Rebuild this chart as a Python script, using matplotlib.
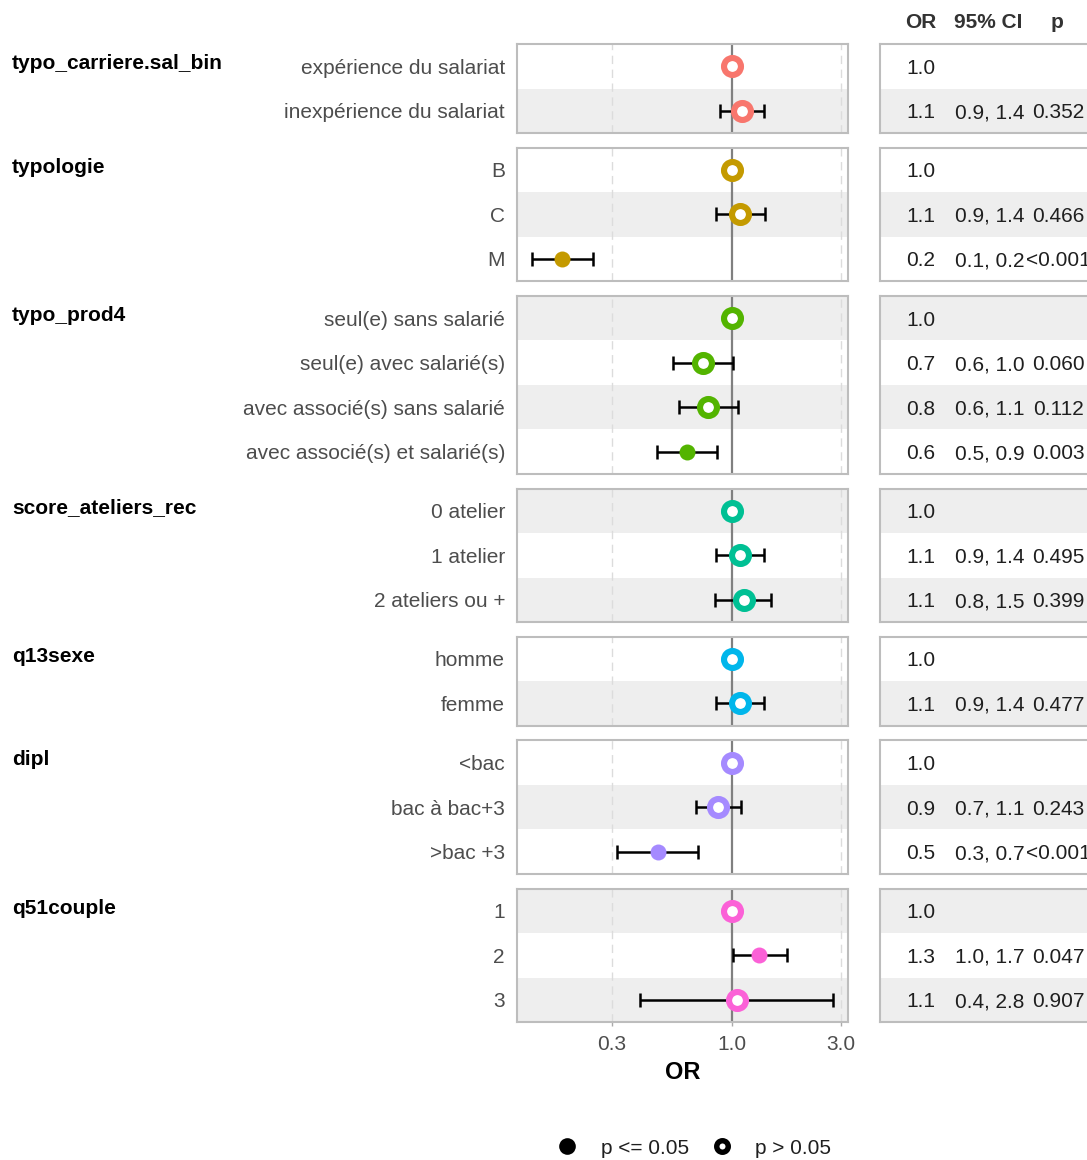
import numpy as np
import matplotlib
matplotlib.use("Agg")
import matplotlib.pyplot as plt
from matplotlib.lines import Line2D

plt.rcParams['font.family'] = ['Liberation Sans', 'DejaVu Sans']

# ---- data -------------------------------------------------------------
groups = ["typo_carriere.sal_bin", "typologie", "typo_prod4",
          "score_ateliers_rec", "q13sexe", "dipl", "q51couple"]
levels = [
    ["expérience du salariat", "inexpérience du salariat"],
    ["B", "C", "M"],
    ["seul(e) sans salarié", "seul(e) avec salarié(s)",
     "avec associé(s) sans salarié", "avec associé(s) et salarié(s)"],
    ["0 atelier", "1 atelier", "2 ateliers ou +"],
    ["homme", "femme"],
    ["<bac", "bac à bac+3", ">bac +3"],
    ["1", "2", "3"],
]
# odds ratios, confidence bounds and p-values (None = reference level)
estimates = [
    [1.0, 1.105],
    [1.0, 1.083, 0.182],
    [1.0, 0.748, 0.787, 0.637],
    [1.0, 1.083, 1.127],
    [1.0, 1.083],
    [1.0, 0.869, 0.477],
    [1.0, 1.32, 1.05],
]
ci_low = [
    [None, 0.887],
    [None, 0.852, 0.135],
    [None, 0.555, 0.588, 0.472],
    [None, 0.852, 0.843],
    [None, 0.852],
    [None, 0.697, 0.316],
    [None, 1.01, 0.40],
]
ci_high = [
    [None, 1.377],
    [None, 1.39, 0.249],
    [None, 1.01, 1.06, 0.861],
    [None, 1.377, 1.49],
    [None, 1.377],
    [None, 1.094, 0.711],
    [None, 1.74, 2.76],
]
p_values = [
    [None, 0.352],
    [None, 0.466, 0.0003],
    [None, 0.060, 0.112, 0.003],
    [None, 0.495, 0.399],
    [None, 0.477],
    [None, 0.243, 0.0002],
    [None, 0.047, 0.907],
]
colors = ["#F8766D", "#C49A00", "#53B400", "#00C094",
          "#00B6EB", "#A58AFF", "#FB61D7"]
x_ticks = [0.3, 1.0, 3.0]
x_tick_labels = ["0.3", "1.0", "3.0"]
table_header = ["OR", "95% CI", "p"]

# ---- layout -----------------------------------------------------------
W, H = 1087, 1160
fig = plt.figure(figsize=(W / 100, H / 100), dpi=100)

row_h = 44.5
gap = 14.67
top0 = 44
plot_x0, plot_x1 = 517, 848
tab_x0, tab_x1 = 880, 1300
col_x = [921, 990, 1058]

# x range: data span in log space, expanded by 5%
lo_all = [v for g in ci_low for v in g if v is not None]
hi_all = [v for g in ci_high for v in g if v is not None]
lmin, lmax = np.log10(min(lo_all)), np.log10(max(hi_all))
pad = 0.05 * (lmax - lmin)
xlim = (10 ** (lmin - pad), 10 ** (lmax + pad))

border_col = "#bdbdbd"
stripe_col = "#eeeeee"
label_col = "#4d4d4d"
text_col = "#1f1f1f"
fs = 15

hollow = dict(ms=12.2, mfc="white", mew=4.4)
filled = dict(ms=11.5, mew=0)


def fmt(v):
    return f"{v:.1f}"


def fmt_p(p):
    return "<0.001" if p < 0.001 else f"{p:.3f}"


def style_box(ax):
    for s in ax.spines.values():
        s.set_color(border_col)
        s.set_linewidth(1.5)


global_row = 0
top = top0
for gi, grp in enumerate(groups):
    n = len(levels[gi])
    height = n * row_h
    fy0 = 1 - (top + height) / H
    fh = height / H

    ax = fig.add_axes([plot_x0 / W, fy0, (plot_x1 - plot_x0) / W, fh])
    tx = fig.add_axes([tab_x0 / W, fy0, (tab_x1 - tab_x0) / W, fh])

    for a in (ax, tx):
        a.set_ylim(n - 0.5, -0.5)
        style_box(a)
        a.set_yticks([])
    ax.set_xscale("log")
    ax.set_xlim(*xlim)
    tx.set_xlim(0, 1)
    tx.set_xticks([])

    for i in range(n):
        if (global_row + i) % 2 == 1:
            ax.axhspan(i - 0.5, i + 0.5, color=stripe_col, lw=0, zorder=0)
            tx.axhspan(i - 0.5, i + 0.5, color=stripe_col, lw=0, zorder=0)

    for xv in (x_ticks[0], x_ticks[-1]):
        ax.axvline(xv, color="#dcdcdc", lw=1.0, ls=(0, (6, 4)), zorder=1)
    ax.axvline(1.0, color="#808080", lw=1.6, zorder=2)

    for i in range(n):
        est = estimates[gi][i]
        lo, hi, p = ci_low[gi][i], ci_high[gi][i], p_values[gi][i]
        if lo is not None:
            ax.errorbar([est], [i], xerr=[[est - lo], [hi - est]], fmt="none",
                        ecolor="black", elinewidth=1.8, capsize=5,
                        capthick=1.8, zorder=3)
        if p is not None and p <= 0.05:
            ax.plot([est], [i], "o", color=colors[gi], mec=colors[gi],
                    zorder=4, **filled)
        else:
            ax.plot([est], [i], "o", mec=colors[gi], zorder=4, **hollow)

        ty = 1 - (top + (i + 0.5) * row_h) / H
        # row label
        fig.text(505 / W, ty, levels[gi][i], ha="right", va="center_baseline",
                 fontsize=fs, color=label_col)

        # table cells
        fig.text(col_x[0] / W, ty, fmt(est), ha="center", va="center_baseline",
                 fontsize=fs, color=text_col)
        if lo is not None:
            fig.text(col_x[1] / W, ty, f"{fmt(lo)}, {fmt(hi)}", ha="center",
                     va="center_baseline", fontsize=fs, color=text_col)
            fig.text(col_x[2] / W, ty, fmt_p(p), ha="center",
                     va="center_baseline", fontsize=fs, color=text_col)

    # group label
    fig.text(12 / W, 1 - (top + 10) / H, grp, ha="left", va="top",
             fontsize=fs, fontweight="bold", color="black")

    ax.xaxis.set_minor_locator(matplotlib.ticker.NullLocator())
    if gi < len(groups) - 1:
        ax.set_xticks([])
        ax.tick_params(axis="both", which="both", length=0)
    else:
        ax.set_xticks(x_ticks)
        ax.set_xticklabels(x_tick_labels, fontsize=fs, color=label_col)
        ax.tick_params(axis="x", length=3, width=1, color="#aaaaaa", pad=6.5)
        ax.set_xlabel("OR", fontsize=17, fontweight="bold", labelpad=5)

    global_row += n
    top += height + gap

# table header
for lbl, xp in zip(table_header, [921, 988, 1057]):
    fig.text(xp / W, 1 - 22 / H, lbl, ha="center", va="center",
             fontsize=fs, fontweight="bold", color="#333333")

# legend
handles = [
    Line2D([], [], ls="none", marker="o", color="black", ms=12, mew=0),
    Line2D([], [], ls="none", marker="o", mfc="white", mec="black",
           ms=8.3, mew=3.9),
]
fig.legend(handles, ["p <= 0.05", "p > 0.05"], loc="center",
           bbox_to_anchor=(694 / W, 1 - 1148 / H), ncol=2, frameon=False,
           fontsize=fs, handlelength=1.0, handletextpad=1.09,
           columnspacing=1.09, labelcolor=text_col)

fig.savefig("out.png", dpi=100)
